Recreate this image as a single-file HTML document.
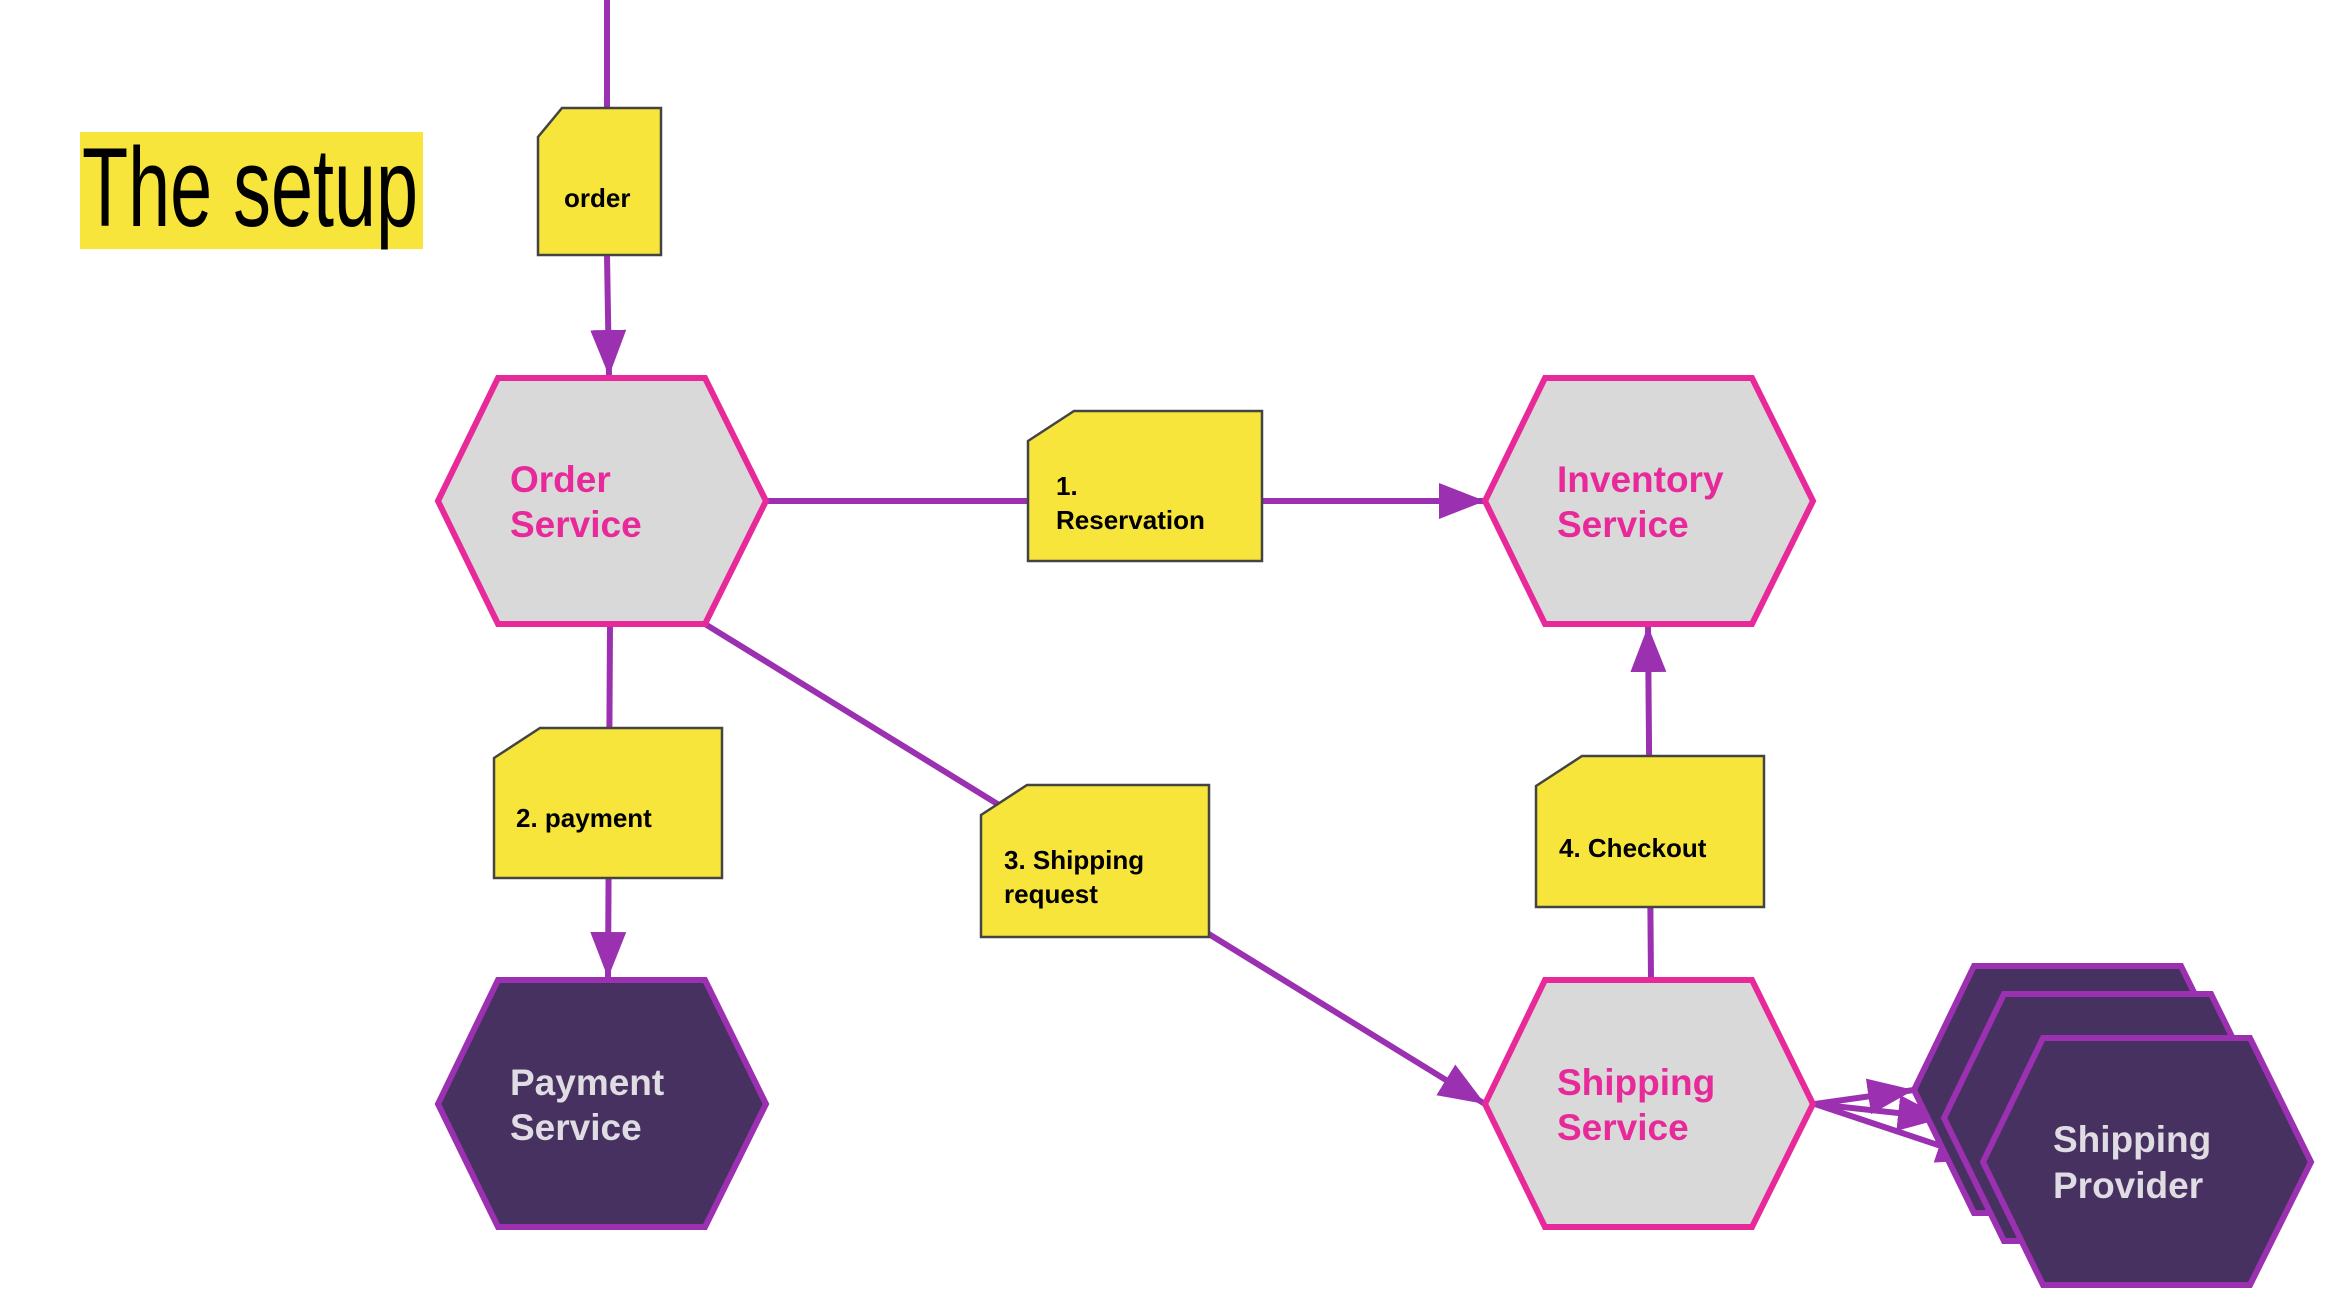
<!DOCTYPE html>
<html><head><meta charset="utf-8"><style>
html,body{margin:0;padding:0;background:#fff;}
svg{display:block;}
text{font-family:"Liberation Sans",sans-serif;font-weight:bold;}
</style></head><body>
<svg width="2340" height="1310" viewBox="0 0 2340 1310" xmlns="http://www.w3.org/2000/svg">
<defs>
<marker id="ah" markerUnits="userSpaceOnUse" markerWidth="48" markerHeight="36" refX="46" refY="18" orient="auto">
<path d="M0,0 L46,18 L0,36 Z" fill="#9b30b0"/>
</marker>
</defs>
<rect width="2340" height="1310" fill="#fff"/>
<!-- title -->
<rect x="80" y="132" width="343" height="117" fill="#f7e53b"/>
<text x="82" y="226" font-size="112" font-weight="normal" textLength="336" lengthAdjust="spacingAndGlyphs" style="font-weight:normal" fill="#000">The setup</text>

<g stroke="#9b30b0" stroke-width="6" fill="none">
<line x1="607" y1="0" x2="607" y2="110"/>
<line x1="607" y1="255" x2="609" y2="376" marker-end="url(#ah)"/>
<line x1="766" y1="501" x2="1485" y2="501" marker-end="url(#ah)"/>
<line x1="610" y1="624" x2="608" y2="978" marker-end="url(#ah)"/>
<line x1="705" y1="624" x2="1485" y2="1104" marker-end="url(#ah)"/>
<line x1="1651" y1="980" x2="1648" y2="626" marker-end="url(#ah)"/>
<line x1="1815" y1="1104" x2="1914" y2="1090" marker-end="url(#ah)"/>
<line x1="1815" y1="1104" x2="1944" y2="1118" marker-end="url(#ah)"/>
<line x1="1815" y1="1104" x2="1983" y2="1160" marker-end="url(#ah)"/>
</g>

<!-- notes -->
<g fill="#f7e53b" stroke="#444" stroke-width="2.5">
<path d="M562,108 L661,108 L661,255 L538,255 L538,137 Z"/>
<path d="M1074,411 L1262,411 L1262,561 L1028,561 L1028,441 Z"/>
<path d="M540,728 L722,728 L722,878 L494,878 L494,758 Z"/>
<path d="M1027,785 L1209,785 L1209,937 L981,937 L981,815 Z"/>
<path d="M1582,756 L1764,756 L1764,907 L1536,907 L1536,786 Z"/>
</g>
<g font-size="26" fill="#000">
<text x="564" y="207">order</text>
<text x="1056" y="495">1.</text>
<text x="1056" y="529">Reservation</text>
<text x="516" y="827">2. payment</text>
<text x="1004" y="869">3. Shipping</text>
<text x="1004" y="903">request</text>
<text x="1559" y="857">4. Checkout</text>
</g>

<!-- hexes -->
<g stroke-width="6" stroke-linejoin="miter">
<polygon points="438,501 498,378 705,378 766,501 705,624 498,624" fill="#d9d9d9" stroke="#e8299a"/>
<polygon points="1485,501 1545,378 1752,378 1813,501 1752,624 1545,624" fill="#d9d9d9" stroke="#e8299a"/>
<polygon points="438,1104 498,980 705,980 766,1104 705,1227 498,1227" fill="#473160" stroke="#9b30b0"/>
<polygon points="1485,1104 1545,980 1752,980 1813,1104 1752,1227 1545,1227" fill="#d9d9d9" stroke="#e8299a"/>
<polygon points="1914,1090 1974,966 2181,966 2242,1090 2181,1213 1974,1213" fill="#473160" stroke="#9b30b0"/>
<polygon points="1944,1118 2004,994 2211,994 2272,1118 2211,1241 2004,1241" fill="#473160" stroke="#9b30b0"/>
<polygon points="1983,1162 2043,1038 2250,1038 2311,1162 2250,1285 2043,1285" fill="#473160" stroke="#9b30b0"/>
</g>
<g font-size="37">
<text x="510" y="492" fill="#e8299a">Order</text>
<text x="510" y="537" fill="#e8299a">Service</text>
<text x="1557" y="492" fill="#e8299a">Inventory</text>
<text x="1557" y="537" fill="#e8299a">Service</text>
<text x="510" y="1095" fill="#e0dce4">Payment</text>
<text x="510" y="1140" fill="#e0dce4">Service</text>
<text x="1557" y="1095" fill="#e8299a">Shipping</text>
<text x="1557" y="1140" fill="#e8299a">Service</text>
<text x="2053" y="1152" fill="#e0dce4">Shipping</text>
<text x="2053" y="1198" fill="#e0dce4">Provider</text>
</g>
</svg>
</body></html>
